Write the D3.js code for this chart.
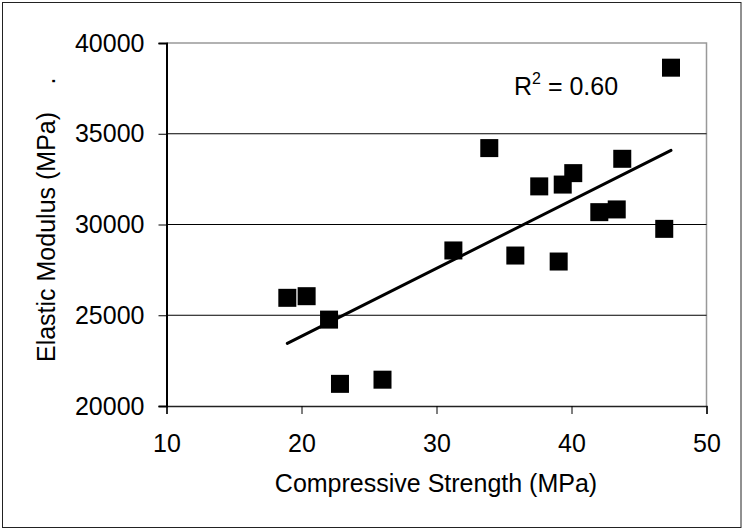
<!DOCTYPE html>
<html><head><meta charset="utf-8">
<script src="https://cdn.jsdelivr.net/npm/d3@7"></script>
<style>body{margin:0;background:#fff;} text{font-family:"Liberation Sans",Arial,sans-serif;fill:#000;}</style>
</head><body>
<svg id="chart" width="743" height="529"></svg>
<script>
const strength = [18.95,20.38,22.04,22.85,26.0,31.25,33.91,35.84,37.61,39.05,39.35,40.13,42.06,43.35,43.76,46.87,47.37];
const modulus  = [25960,26050,24760,21220,21450,28570,34210,28290,32100,27960,32200,32830,30680,30830,33620,29760,38640];
const xTicks = [10,20,30,40,50];
const yTicks = [20000,25000,30000,35000,40000];
const xTitle = "Compressive Strength (MPa)";
const yTitle = "Elastic Modulus (MPa)";
const r2Label = "0.60";

const FS = 25;
const svg = d3.select("#chart");
svg.append("rect").attr("x",2.5).attr("y",2.5).attr("width",738.5).attr("height",525)
  .attr("fill","#fff").attr("stroke","#222").attr("stroke-width",1);

const x = d3.scaleLinear().domain([10,50]).range([166.5,706.5]);
const y = d3.scaleLinear().domain([20000,40000]).range([406,43]);

svg.append("path").attr("d",`M${x(10)},${y(40000)}H${x(50)}V${y(20000)}`)
  .attr("fill","none").attr("stroke","#999").attr("stroke-width",1.5);

svg.append("g").selectAll("line").data(yTicks.filter(v=>v>20000 && v<40000)).join("line")
  .attr("x1",x(10)).attr("x2",x(50)).attr("y1",d=>y(d)).attr("y2",d=>y(d))
  .attr("stroke","#000").attr("stroke-width",1);

const xAxis = d3.axisBottom(x).tickValues(xTicks).tickSize(8).tickPadding(20).tickFormat(d3.format("d"));
const gx = svg.append("g").attr("transform",`translate(0,${y(20000)})`).call(xAxis);
gx.select(".domain").attr("stroke","#222").attr("stroke-width",1.5);
gx.selectAll(".tick line").attr("stroke","#000");
gx.selectAll("text").attr("font-size",FS).attr("font-family","Liberation Sans, Arial, sans-serif");

const yAxis = d3.axisLeft(y).tickValues(yTicks).tickSize(8).tickPadding(14).tickFormat(d3.format("d"));
const gy = svg.append("g").attr("transform",`translate(${x(10)},0)`).call(yAxis);
gy.select(".domain").attr("stroke","#000").attr("stroke-width",2);
gy.selectAll(".tick line").attr("stroke","#000");
gy.selectAll("text").attr("font-size",FS).attr("font-family","Liberation Sans, Arial, sans-serif");

const n = strength.length;
const mx = d3.mean(strength), my = d3.mean(modulus);
let sxy=0, sxx=0;
for(let i=0;i<n;i++){sxy+=(strength[i]-mx)*(modulus[i]-my); sxx+=(strength[i]-mx)**2;}
const slope = sxy/sxx, icpt = my - slope*mx;
const [xmin,xmax] = d3.extent(strength);
svg.append("line").attr("x1",x(xmin)).attr("y1",y(icpt+slope*xmin))
  .attr("x2",x(xmax)).attr("y2",y(icpt+slope*xmax))
  .attr("stroke","#000").attr("stroke-width",3).attr("stroke-linecap","round");

const s = 18;
svg.append("g").selectAll("rect").data(strength.map((v,i)=>[v,modulus[i]])).join("rect")
  .attr("x",d=>x(d[0])-s/2).attr("y",d=>y(d[1])-s/2).attr("width",s).attr("height",s)
  .attr("fill","#000");

const t = svg.append("text").attr("x",514).attr("y",95).attr("font-size",FS);
t.append("tspan").text("R");
t.append("tspan").attr("font-size",16).attr("dy",-11).text("2");
t.append("tspan").attr("dy",11).text(" = " + r2Label);

svg.append("text").attr("x",436).attr("y",492).attr("text-anchor","middle").attr("font-size",FS).text(xTitle);
svg.append("text").attr("transform","translate(55,237) rotate(-90)").attr("text-anchor","middle").attr("font-size",FS).text(yTitle);
svg.append("text").attr("transform","translate(55,81) rotate(-90)").attr("text-anchor","middle").attr("font-size",FS).text(".");
</script>
</body></html>
